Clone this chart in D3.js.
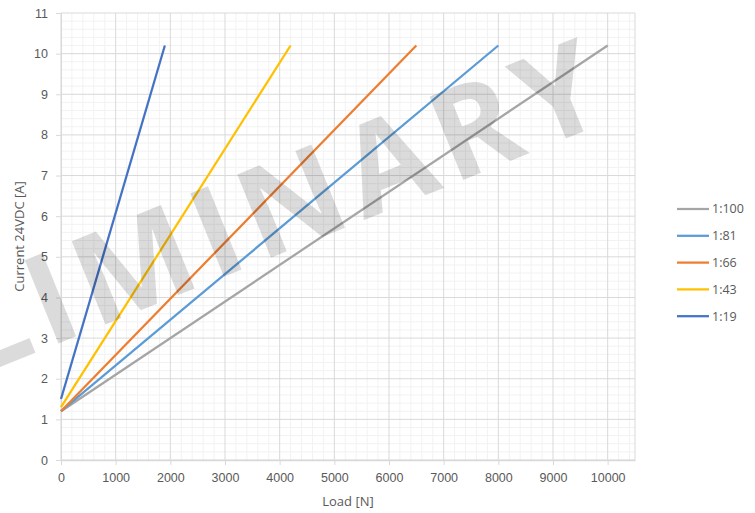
<!DOCTYPE html>
<html>
<head>
<meta charset="utf-8">
<script src="https://cdn.jsdelivr.net/npm/d3@7"></script>
<style>
  body { margin: 0; background: #fff; }
  svg { font-family: 'Open Sans', sans-serif; }
  .axis text { fill: #595959; font-size: 12.5px; }
  .axis path, .axis line { stroke: #d9d9d9; }
  .title { fill: #595959; font-size: 13px; }
</style>
</head>
<body>
<svg id="chart" width="755" height="513"></svg>
<script>
// DATA
const seriesNames = ['1:100', '1:81', '1:66', '1:43', '1:19'];
const seriesColors = ['#a5a5a5', '#5b9bd5', '#ed7d31', '#ffc000', '#4472c4'];
const loadStart = [0, 0, 0, 0, 0];
const loadEnd = [10000, 8000, 6500, 4200, 1900];
const currentStart = [1.2, 1.2, 1.2, 1.3, 1.5];
const currentEnd = [10.2, 10.2, 10.2, 10.2, 10.2];
const xTicks = [0, 1000, 2000, 3000, 4000, 5000, 6000, 7000, 8000, 9000, 10000];
const yTicks = [0, 1, 2, 3, 4, 5, 6, 7, 8, 9, 10, 11];

// SETUP
let svg = d3.select('svg'),
  margin = { top: 13, right: 120, bottom: 53, left: 61 },
  width = 755 - margin.left - margin.right,
  height = 513 - margin.top - margin.bottom;

let x = d3.scaleLinear().domain([0, 10500]).range([0, width]),
  y = d3.scaleLinear().domain([0, 11]).range([height, 0]);

let g = svg.append('g')
  .attr('transform', 'translate(' + margin.left + ',' + margin.top + ')');

// MINOR GRID
g.append('g').selectAll('line')
  .data(d3.range(0, 10501, 200).filter(v => v % 1000 !== 0))
  .enter().append('line')
  .attr('x1', d => x(d)).attr('x2', d => x(d))
  .attr('y1', 0).attr('y2', height)
  .attr('stroke', '#f2f2f2');
g.append('g').selectAll('line')
  .data(d3.range(1, 55).map(i => i / 5).filter((v, i) => (i + 1) % 5 !== 0))
  .enter().append('line')
  .attr('x1', 0).attr('x2', width)
  .attr('y1', d => y(d)).attr('y2', d => y(d))
  .attr('stroke', '#f2f2f2');

// MAJOR GRID
g.append('g').selectAll('line')
  .data(xTicks.concat([10500]))
  .enter().append('line')
  .attr('x1', d => x(d)).attr('x2', d => x(d))
  .attr('y1', 0).attr('y2', height)
  .attr('stroke', '#d9d9d9');
g.append('g').selectAll('line')
  .data(yTicks)
  .enter().append('line')
  .attr('x1', 0).attr('x2', width)
  .attr('y1', d => y(d)).attr('y2', d => y(d))
  .attr('stroke', '#d9d9d9');

// AXES
g.append('g').attr('class', 'axis')
  .attr('transform', 'translate(0,' + height + ')')
  .call(d3.axisBottom(x).tickValues(xTicks).tickFormat(d3.format('d'))
    .tickSizeInner(5).tickSizeOuter(0).tickPadding(8))
  .call(a => a.select('.domain').attr('stroke-width', 1.5));
g.append('g').attr('class', 'axis')
  .call(d3.axisLeft(y).tickValues(yTicks).tickSizeInner(5).tickSizeOuter(0).tickPadding(8));

// LINES
let line = d3.line().x(d => x(d[0])).y(d => y(d[1]));
seriesNames.forEach(function (name, i) {
  g.append('path')
    .datum([[loadStart[i], currentStart[i]], [loadEnd[i], currentEnd[i]]])
    .attr('d', line)
    .attr('fill', 'none')
    .attr('stroke', seriesColors[i])
    .attr('stroke-width', 2.25);
});

// AXIS TITLES
svg.append('text').attr('class', 'title')
  .attr('transform', 'translate(24,' + (margin.top + height / 2) + ') rotate(-90)')
  .attr('text-anchor', 'middle')
  .text('Current 24VDC [A]');
svg.append('text').attr('class', 'title')
  .attr('x', margin.left + width / 2).attr('y', 506)
  .attr('text-anchor', 'middle')
  .text('Load [N]');

// LEGEND
let legend = svg.append('g').attr('transform', 'translate(677,209)');
seriesNames.forEach(function (name, i) {
  let row = legend.append('g').attr('transform', 'translate(0,' + i * 26.8 + ')');
  row.append('line').attr('x1', 0).attr('x2', 32)
    .attr('stroke', seriesColors[i]).attr('stroke-width', 2.25);
  row.append('text').attr('x', 35).attr('dy', '0.35em')
    .attr('fill', '#595959').style('font-size', '12.5px')
    .text(name);
});

// WATERMARK
svg.append('text')
  .attr('transform', 'translate(176,296) rotate(-22)')
  .attr('text-anchor', 'middle')
  .attr('fill', '#000').attr('fill-opacity', 0.14)
  .style('font-size', '126px').style('font-weight', 'bold')
  .style('letter-spacing', '9px')
  .text('PRELIMINARY');
</script>
</body>
</html>
